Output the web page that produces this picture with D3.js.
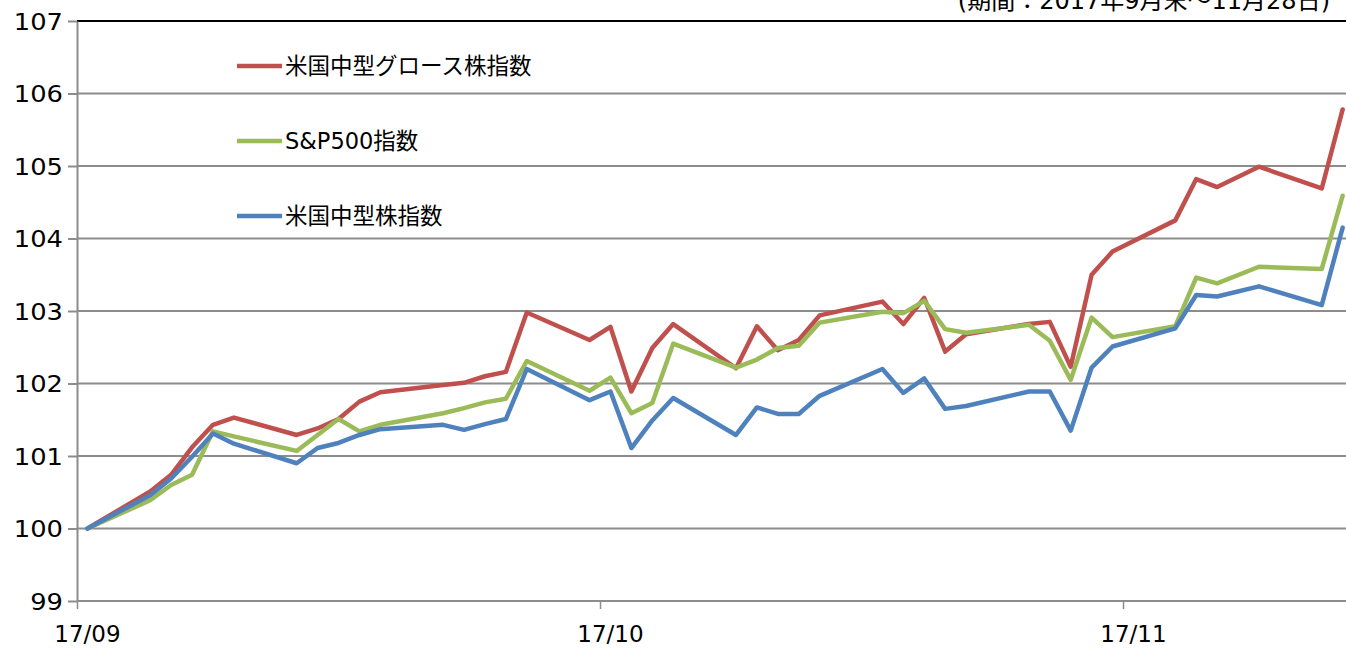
<!DOCTYPE html>
<html><head><meta charset="utf-8">
<script src="https://cdn.jsdelivr.net/npm/d3@7"></script>
<style>body{margin:0;background:#fff;overflow:hidden}svg{display:block}</style>
</head><body>
<svg id="chart" width="1346" height="648"></svg>
<script>
// ---- data ----
const dates = ["2017-09-29",
  "2017-10-02","2017-10-03","2017-10-04","2017-10-05","2017-10-06",
  "2017-10-09","2017-10-10","2017-10-11","2017-10-12","2017-10-13",
  "2017-10-16","2017-10-17","2017-10-18","2017-10-19","2017-10-20",
  "2017-10-23","2017-10-24","2017-10-25","2017-10-26","2017-10-27",
  "2017-10-30","2017-10-31","2017-11-01","2017-11-02","2017-11-03",
  "2017-11-06","2017-11-07","2017-11-08","2017-11-09","2017-11-10",
  "2017-11-13","2017-11-14","2017-11-15","2017-11-16","2017-11-17",
  "2017-11-20","2017-11-21","2017-11-22","2017-11-24",
  "2017-11-27","2017-11-28"];
const midcapGrowth = [100.00,
  100.51,100.74,101.12,101.43,101.53,
  101.29,101.38,101.51,101.75,101.88,
  101.98,102.01,102.10,102.16,102.98,
  102.60,102.78,101.89,102.49,102.82,
  102.21,102.79,102.46,102.60,102.94,
  103.13,102.82,103.18,102.44,102.68,
  102.82,102.85,102.23,103.50,103.82,
  104.25,104.82,104.71,104.99,
  104.69,105.78];
const sp500 = [100.00,
  100.39,100.60,100.74,101.34,101.27,
  101.07,101.29,101.51,101.34,101.43,
  101.59,101.66,101.74,101.79,102.31,
  101.90,102.08,101.59,101.73,102.55,
  102.22,102.33,102.49,102.52,102.84,
  102.99,102.97,103.14,102.75,102.70,
  102.81,102.59,102.05,102.91,102.64,
  102.79,103.46,103.38,103.61,
  103.58,104.59];
const midcap = [100.00,
  100.46,100.69,100.99,101.31,101.17,
  100.90,101.11,101.18,101.29,101.37,
  101.43,101.36,101.44,101.51,102.20,
  101.77,101.89,101.11,101.49,101.80,
  101.29,101.67,101.58,101.58,101.83,
  102.20,101.87,102.07,101.65,101.69,
  101.89,101.89,101.35,102.22,102.51,
  102.76,103.22,103.20,103.34,
  103.08,104.15];
const seriesNames = ["米国中型グロース株指数","S&P500指数","米国中型株指数"];
const seriesColors = ["#C0504D","#9BBB59","#4F81BD"];
const yTicks = [99,100,101,102,103,104,105,106,107];
const xTickDates = ["2017-09-29","2017-10-24","2017-11-18"];
const xTickLabels = ["17/09","17/10","17/11"];
const periodNote = "(期間：2017年9月末～11月28日)";

// ---- layout ----
const svg = d3.select("#chart");
const parse = d3.utcParse("%Y-%m-%d");
const plotLeft = 77, plotTop = 21, plotBottom = 601, dayW = 20.92;
const domainStart = parse("2017-09-29"), domainEnd = parse("2017-11-29");
const x = d3.scaleUtc().domain([domainStart, domainEnd]).range([plotLeft, plotLeft + 61 * dayW]);
const y = d3.scaleLinear().domain([99, 107]).range([plotBottom, plotTop]);
const mid = d => d3.utcHour.offset(parse(d), 12);
const W = 1346;

const numFont = "'DejaVu Sans', Verdana, sans-serif";
const jpFont = "'DejaVu Sans', 'Noto Sans CJK JP', sans-serif";

// gridlines
svg.append("g").selectAll("line").data(yTicks).join("line")
  .attr("x1", plotLeft).attr("x2", W)
  .attr("y1", d => y(d)).attr("y2", d => y(d))
  .attr("stroke", d => d === 107 ? "#000" : "#8c8c8c")
  .attr("stroke-width", 2);

// y axis
const yAxis = svg.append("g").attr("transform", `translate(${plotLeft},0)`)
  .call(d3.axisLeft(y).tickValues(yTicks).tickSize(9).tickSizeOuter(0));
yAxis.select(".domain").attr("stroke", "#8c8c8c").attr("stroke-width", 2);
yAxis.selectAll(".tick line").attr("stroke", "#8c8c8c").attr("stroke-width", 2);
yAxis.selectAll(".tick text").attr("font-family", numFont).attr("font-size", 23)
  .attr("fill", "#000").attr("dy", "0.36em").attr("x", 0)
  .attr("transform", "translate(-14,0) scale(1.12,1)");

// x axis
const xAxis = svg.append("g").attr("transform", `translate(0,${plotBottom})`)
  .call(d3.axisBottom(x).tickValues(xTickDates.map(parse)).tickSize(8).tickSizeOuter(0).tickFormat(""));
xAxis.select(".domain").remove();
xAxis.selectAll(".tick line").attr("stroke", "#8c8c8c").attr("stroke-width", 1.5);
svg.append("g").selectAll("text").data(xTickDates).join("text")
  .attr("x", d => x(mid(d))).attr("y", 642)
  .attr("text-anchor", "middle")
  .attr("font-family", numFont).attr("font-size", 23).attr("fill", "#000")
  .text((d, i) => xTickLabels[i]);

// lines
const seriesData = [midcapGrowth, sp500, midcap];
const line = d3.line().x((v, i) => x(mid(dates[i]))).y(v => y(v));
[0, 1, 2].forEach(s => {
  svg.append("path").datum(seriesData[s])
    .attr("d", line).attr("fill", "none")
    .attr("stroke", seriesColors[s]).attr("stroke-width", 4.5)
    .attr("stroke-linejoin", "round").attr("stroke-linecap", "round");
});

// legend
const legendY = [66, 141, 216];
const lg = svg.append("g").selectAll("g").data(seriesNames).join("g")
  .attr("transform", (d, i) => `translate(237,${legendY[i]})`);
lg.append("line").attr("x1", 0).attr("x2", 45)
  .attr("stroke", (d, i) => seriesColors[i]).attr("stroke-width", 4.5);
lg.append("text").attr("x", 48).attr("dy", "0.36em")
  .attr("font-family", jpFont).attr("font-size", 22.5).attr("fill", "#000")
  .text(d => d);

// period note
svg.append("text").attr("x", 1330).attr("y", 9).attr("text-anchor", "end")
  .attr("font-family", jpFont).attr("font-size", 24).attr("fill", "#000")
  .text(periodNote);
</script>
</body></html>
